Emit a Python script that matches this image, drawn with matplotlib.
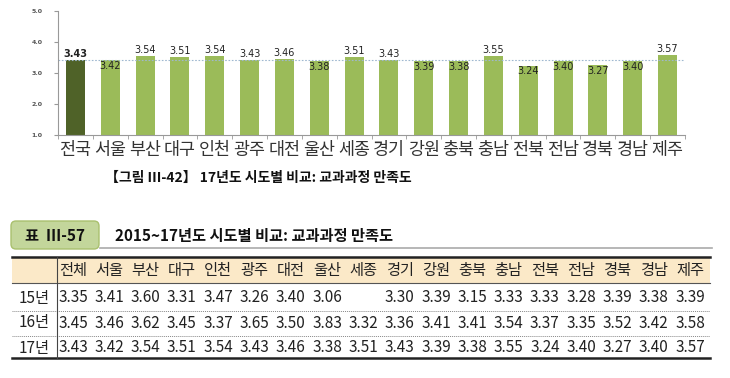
import matplotlib.pyplot as plt
from matplotlib.patches import FancyBboxPatch, Rectangle
import numpy as np

plt.rcParams['font.family'] = ['Noto Sans CJK KR', 'DejaVu Sans']

regions = ['전국', '서울', '부산', '대구', '인천', '광주', '대전', '울산', '세종',
           '경기', '강원', '충북', '충남', '전북', '전남', '경북', '경남', '제주']
scores_17 = [3.43, 3.42, 3.54, 3.51, 3.54, 3.43, 3.46, 3.38, 3.51,
             3.43, 3.39, 3.38, 3.55, 3.24, 3.40, 3.27, 3.40, 3.57]

table_cols = ['전체'] + regions[1:]
row_labels = ['15년', '16년', '17년']
row_15 = ['3.35', '3.41', '3.60', '3.31', '3.47', '3.26', '3.40', '3.06', '',
          '3.30', '3.39', '3.15', '3.33', '3.33', '3.28', '3.39', '3.38', '3.39']
row_16 = ['3.45', '3.46', '3.62', '3.45', '3.37', '3.65', '3.50', '3.83', '3.32',
          '3.36', '3.41', '3.41', '3.54', '3.37', '3.35', '3.52', '3.42', '3.58']
row_17 = ['%.2f' % v for v in scores_17]
avg = scores_17[0]

W, H = 730, 378
fig = plt.figure(figsize=(W / 100, H / 100), dpi=100)

# bar chart
ax = fig.add_axes([58 / W, 1 - 135 / H, 627 / W, 124 / H])
x = np.arange(len(regions))
colors = ['#4f6228'] + ['#9bbb59'] * (len(regions) - 1)
ax.bar(x, scores_17, width=0.55, color=colors)
ax.axhline(avg, color='#9fb8d0', lw=0.8, ls=(0, (1.5, 1.5)))
for i, v in enumerate(scores_17):
    if v < avg:
        ax.text(i, v - 0.03, '%.2f' % v, ha='center', va='top', fontsize=7,
                family='DejaVu Sans', color='#222222')
    else:
        ax.text(i, v + 0.03, '%.2f' % v, ha='center', va='bottom', fontsize=7,
                family='DejaVu Sans', color='#222222',
                fontweight='bold' if i == 0 else 'normal')
ax.set_xlim(-0.5, len(regions) - 0.5)
ax.set_ylim(1.0, 5.0)
ax.set_yticks([1.0, 2.0, 3.0, 4.0, 5.0])
ax.set_yticklabels(['1.0', '2.0', '3.0', '4.0', '5.0'], fontsize=4.5,
                   family='DejaVu Sans', fontweight='bold', color='#555555')
ax.set_xticks(x)
ax.set_xticklabels(regions, fontsize=12.5, color='#333333')
ax.set_xticks(np.arange(-0.5, len(regions)), minor=True)
ax.tick_params(axis='x', which='major', length=0, pad=4)
ax.tick_params(axis='x', which='minor', length=3, color='#999999')
ax.tick_params(axis='y', length=3, color='#999999', pad=8)
for s in ['top', 'right']:
    ax.spines[s].set_visible(False)
for s in ['left', 'bottom']:
    ax.spines[s].set_color('#999999')
    ax.spines[s].set_linewidth(0.8)

# overlay in pixel coordinates
ov = fig.add_axes([0, 0, 1, 1])
ov.set_xlim(0, W)
ov.set_ylim(H, 0)
ov.axis('off')

ov.text(258, 178, '【그림 Ⅲ-42】 17년도 시도별 비교: 교과과정 만족도', ha='center',
        va='center', fontsize=10, fontweight='bold', color='#111111')

ov.add_patch(FancyBboxPatch((11, 221), 88, 28, boxstyle='round,pad=0,rounding_size=5',
                            fc='#c3d69b', ec='#a9c06e', lw=1))
ov.text(55, 236, '표  Ⅲ-57', ha='center', va='center', fontsize=11,
        fontweight='bold', color='#111111')
ov.text(115, 236, '2015~17년도 시도별 비교: 교과과정 만족도', ha='left', va='center',
        fontsize=11, fontweight='bold', color='#111111')
ov.plot([100, 712], [248, 248], color='#aaaaaa', lw=1.2)

# table
tl, tr = 12, 710
ov.add_patch(Rectangle((tl, 258), tr - tl, 25, fc='#fbe9c8', ec='none'))
ov.plot([tl, tr], [257, 257], color='#222222', lw=1.8)
ov.plot([tl, tr], [283, 283], color='#555555', lw=0.8)
ov.plot([tl, tr], [311, 311], color='#888888', lw=0.7, ls=(0, (1, 1)))
ov.plot([tl, tr], [336, 336], color='#888888', lw=0.7, ls=(0, (1, 1)))
ov.plot([tl, tr], [358, 358], color='#222222', lw=1.8)
ov.plot([57, 57], [257, 358], color='#444444', lw=0.8)

col_x = 73 + 36.3 * np.arange(len(table_cols))
for cx, name in zip(col_x, table_cols):
    ov.text(cx, 270, name, ha='center', va='center', fontsize=11, color='#222222')
row_y = [298, 323, 348]
for ry, lab, vals in zip(row_y, row_labels, [row_15, row_16, row_17]):
    ov.text(50, ry, lab, ha='right', va='center', fontsize=11, color='#222222')
    for cx, v in zip(col_x, vals):
        ov.text(cx, ry, v, ha='center', va='center', fontsize=11, color='#222222')

fig.savefig('out.png', dpi=100)
